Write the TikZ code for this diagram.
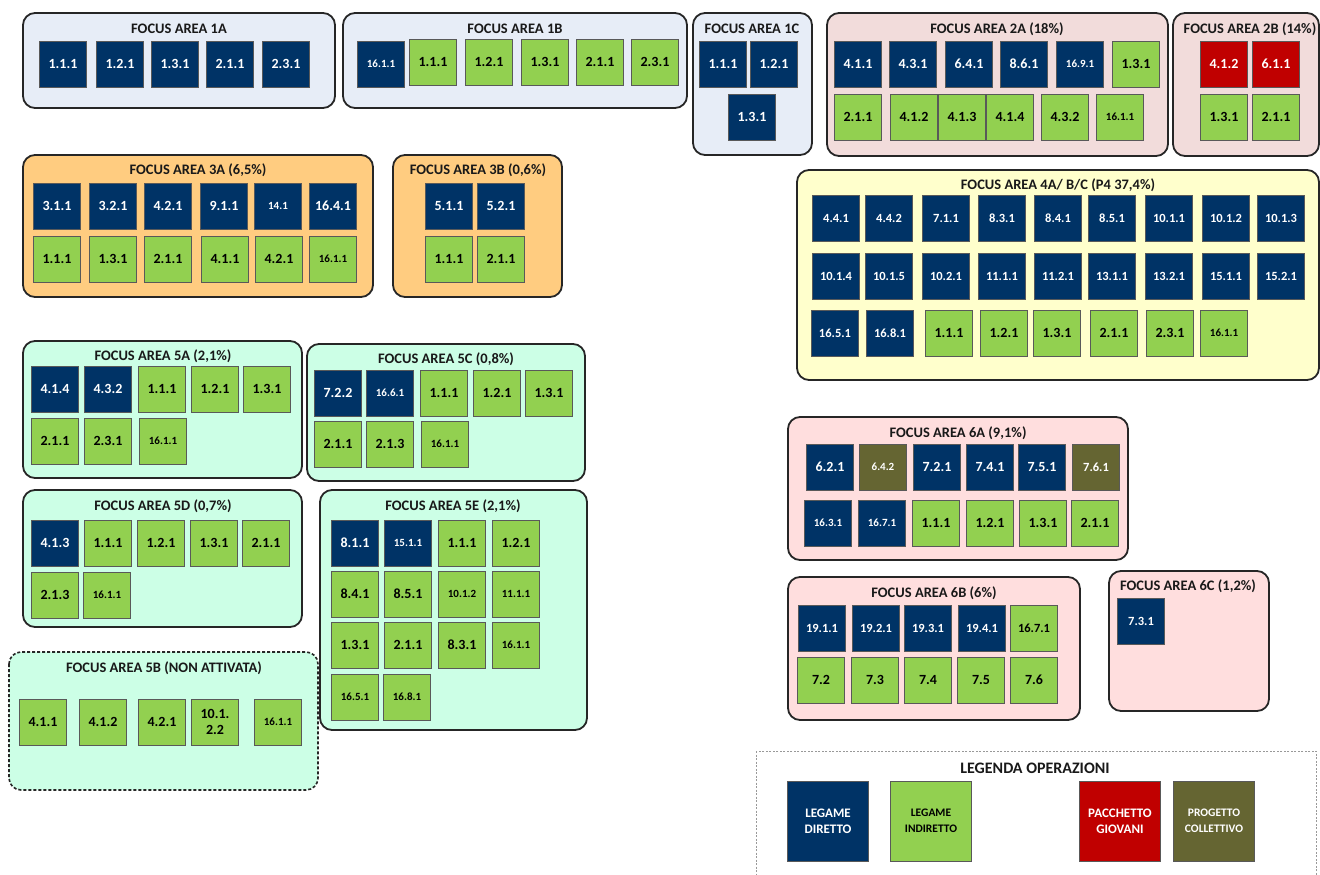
\documentclass[tikz,border=0pt]{standalone}
\usepackage{fontspec}
\setmainfont{Carlito}
\definecolor{navy}{HTML}{003366}
\definecolor{lgreen}{HTML}{92D050}
\definecolor{dred}{HTML}{C00000}
\definecolor{olivebox}{HTML}{656532}
\definecolor{fblue}{HTML}{E7EDF7}
\definecolor{fpinka}{HTML}{F2DCDB}
\definecolor{forange}{HTML}{FFCC80}
\definecolor{fyellow}{HTML}{FFFFCC}
\definecolor{fmint}{HTML}{CCFFE6}
\definecolor{fpinkb}{HTML}{FFDEDE}
\newcommand\opnode[5]{\node[#2] (#1) at (#3,#4) {#5};}
\begin{document}
\begin{tikzpicture}[x=1pt,y=-1pt,
  area/.style={draw=black!85, line width=1.8pt, rounded corners=12pt},
  dasharea/.style={draw=black!85, line width=1.6pt, rounded corners=12pt, dash pattern=on 3pt off 2pt},
  ttl/.style={font=\bfseries\fontsize{14.5}{16}\selectfont, text=black!90, inner sep=0pt},
  sq/.style={draw=black!65, line width=0.9pt, minimum width=47pt, minimum height=46pt, inner sep=0pt, align=center, font=\bfseries\fontsize{14}{16}\selectfont},
  dir/.style={sq, fill=navy, text=white},
  ind/.style={sq, fill=lgreen, text=black},
  pg/.style={sq, fill=dred, text=white},
  pc/.style={sq, fill=olivebox, text=white},
  sm/.style={font=\bfseries\fontsize{11}{13}\selectfont},
  md/.style={font=\bfseries\fontsize{12.5}{14}\selectfont},
  leg/.style={minimum width=81pt, minimum height=80pt, font=\bfseries\fontsize{13}{16}\selectfont},
  legs/.style={font=\bfseries\fontsize{11.5}{16}\selectfont}
]
\clip (0,0) rectangle (1320,875);
\fill[white] (0,0) rectangle (1320,875);

% ---------- 1A
\draw[area, fill=fblue] (23,13) rectangle (335,108);
\node[ttl] (t1a) at (179,29) {FOCUS AREA 1A};
\opnode{a1}{dir}{63}{64}{1.1.1}
\opnode{a2}{dir}{120}{64}{1.2.1}
\opnode{a3}{dir}{175}{64}{1.3.1}
\opnode{a4}{dir}{230}{64}{2.1.1}
\opnode{a5}{dir}{286}{64}{2.3.1}

% ---------- 1B
\draw[area, fill=fblue] (343,13) rectangle (687,108);
\node[ttl] (t1b) at (515,29) {FOCUS AREA 1B};
\opnode{b1}{dir,sm}{381}{64}{16.1.1}
\opnode{b2}{ind}{433}{62}{1.1.1}
\opnode{b3}{ind}{489}{62}{1.2.1}
\opnode{b4}{ind}{545}{62}{1.3.1}
\opnode{b5}{ind}{600}{62}{2.1.1}
\opnode{b6}{ind}{655}{62}{2.3.1}

% ---------- 1C
\draw[area, fill=fblue] (693,13) rectangle (812,155);
\node[ttl] (t1c) at (752,29) {FOCUS AREA 1C};
\opnode{c1}{dir}{723}{64}{1.1.1}
\opnode{c2}{dir}{774}{64}{1.2.1}
\opnode{c3}{dir}{752}{117}{1.3.1}

% ---------- 2A
\draw[area, fill=fpinka] (827,13) rectangle (1168,156);
\node[ttl] (t2a) at (997,29) {FOCUS AREA 2A (18\%)};
\opnode{d1}{dir}{858}{64}{4.1.1}
\opnode{d2}{dir}{913}{64}{4.3.1}
\opnode{d3}{dir}{969}{64}{6.4.1}
\opnode{d4}{dir}{1024}{64}{8.6.1}
\opnode{d5}{dir,sm}{1080}{64}{16.9.1}
\opnode{d6}{ind}{1136}{64}{1.3.1}
\opnode{d7}{ind}{858}{117}{2.1.1}
\opnode{d8}{ind}{914}{117}{4.1.2}
\opnode{d9}{ind}{962}{117}{4.1.3}
\opnode{d10}{ind}{1010}{117}{4.1.4}
\opnode{d11}{ind}{1065}{117}{4.3.2}
\opnode{d12}{ind,sm}{1120}{117}{16.1.1}

% ---------- 2B
\draw[area, fill=fpinka] (1173,13) rectangle (1319,156);
\node[ttl] (t2b) at (1250,29) {FOCUS AREA 2B (14\%)};
\opnode{e1}{pg}{1224}{64}{4.1.2}
\opnode{e2}{pg}{1276}{64}{6.1.1}
\opnode{e3}{ind}{1224}{117}{1.3.1}
\opnode{e4}{ind}{1276}{117}{2.1.1}

% ---------- 3A
\draw[area, fill=forange] (23,155) rectangle (373,297);
\node[ttl] (t3a) at (198,170) {FOCUS AREA 3A (6,5\%)};
\opnode{f1}{dir}{57}{206}{3.1.1}
\opnode{f2}{dir}{113}{206}{3.2.1}
\opnode{f3}{dir}{168}{206}{4.2.1}
\opnode{f4}{dir}{224}{206}{9.1.1}
\opnode{f5}{dir,sm}{278}{206}{14.1}
\opnode{f6}{dir}{333}{206}{16.4.1}
\opnode{f7}{ind}{57}{259}{1.1.1}
\opnode{f8}{ind}{113}{259}{1.3.1}
\opnode{f9}{ind}{168}{259}{2.1.1}
\opnode{f10}{ind}{225}{259}{4.1.1}
\opnode{f11}{ind}{279}{259}{4.2.1}
\opnode{f12}{ind,sm}{333}{259}{16.1.1}

% ---------- 3B
\draw[area, fill=forange] (393,155) rectangle (562,297);
\node[ttl] (t3b) at (478,170) {FOCUS AREA 3B (0,6\%)};
\opnode{g1}{dir}{449}{206}{5.1.1}
\opnode{g2}{dir}{501}{206}{5.2.1}
\opnode{g3}{ind}{449}{259}{1.1.1}
\opnode{g4}{ind}{501}{259}{2.1.1}

% ---------- 4
\draw[area, fill=fyellow] (797,170) rectangle (1319,380);
\node[ttl] (t4) at (1058,185) {FOCUS AREA 4A/ B/C (P4 37,4\%)};
\opnode{h1}{dir,md}{836}{218}{4.4.1}
\opnode{h2}{dir,md}{889}{218}{4.4.2}
\opnode{h3}{dir,md}{946}{218}{7.1.1}
\opnode{h4}{dir,md}{1002}{218}{8.3.1}
\opnode{h5}{dir,md}{1058}{218}{8.4.1}
\opnode{h6}{dir,md}{1112}{218}{8.5.1}
\opnode{h7}{dir,md}{1169}{218}{10.1.1}
\opnode{h8}{dir,md}{1226}{218}{10.1.2}
\opnode{h9}{dir,md}{1281}{218}{10.1.3}
\opnode{h10}{dir,md}{836}{276}{10.1.4}
\opnode{h11}{dir,md}{889}{276}{10.1.5}
\opnode{h12}{dir,md}{946}{276}{10.2.1}
\opnode{h13}{dir,md}{1002}{276}{11.1.1}
\opnode{h14}{dir,md}{1058}{276}{11.2.1}
\opnode{h15}{dir,md}{1112}{276}{13.1.1}
\opnode{h16}{dir,md}{1169}{276}{13.2.1}
\opnode{h17}{dir,md}{1226}{276}{15.1.1}
\opnode{h18}{dir,md}{1281}{276}{15.2.1}
\opnode{h19}{dir,md}{835}{333}{16.5.1}
\opnode{h20}{dir,md}{890}{333}{16.8.1}
\opnode{h21}{ind}{949}{333}{1.1.1}
\opnode{h22}{ind}{1004}{333}{1.2.1}
\opnode{h23}{ind}{1057}{333}{1.3.1}
\opnode{h24}{ind}{1114}{333}{2.1.1}
\opnode{h25}{ind}{1170}{333}{2.3.1}
\opnode{h26}{ind,sm}{1224}{333}{16.1.1}

% ---------- 5A
\draw[area, fill=fmint] (23,341) rectangle (302,478);
\node[ttl] (t5a) at (163,356) {FOCUS AREA 5A (2,1\%)};
\opnode{i1}{dir}{55}{389}{4.1.4}
\opnode{i2}{dir}{108}{389}{4.3.2}
\opnode{i3}{ind}{162}{389}{1.1.1}
\opnode{i4}{ind}{215}{389}{1.2.1}
\opnode{i5}{ind}{267}{389}{1.3.1}
\opnode{i6}{ind}{55}{441}{2.1.1}
\opnode{i7}{ind}{108}{441}{2.3.1}
\opnode{i8}{ind,sm}{163}{441}{16.1.1}

% ---------- 5C
\draw[area, fill=fmint] (307,344) rectangle (585,481);
\node[ttl] (t5c) at (446,359) {FOCUS AREA 5C (0,8\%)};
\opnode{j1}{dir}{338}{393}{7.2.2}
\opnode{j2}{dir,sm}{390}{393}{16.6.1}
\opnode{j3}{ind}{444}{393}{1.1.1}
\opnode{j4}{ind}{497}{393}{1.2.1}
\opnode{j5}{ind}{549}{393}{1.3.1}
\opnode{j6}{ind}{338}{444}{2.1.1}
\opnode{j7}{ind}{390}{444}{2.1.3}
\opnode{j8}{ind,sm}{445}{444}{16.1.1}

% ---------- 5D
\draw[area, fill=fmint] (23,490) rectangle (302,627);
\node[ttl] (t5d) at (163,506) {FOCUS AREA 5D (0,7\%)};
\opnode{k1}{dir}{55}{543}{4.1.3}
\opnode{k2}{ind}{108}{543}{1.1.1}
\opnode{k3}{ind}{161}{543}{1.2.1}
\opnode{k4}{ind}{214}{543}{1.3.1}
\opnode{k5}{ind}{266}{543}{2.1.1}
\opnode{k6}{ind}{55}{595}{2.1.3}
\opnode{k7}{ind,sm}{107}{595}{16.1.1}

% ---------- 5E
\draw[area, fill=fmint] (320,490) rectangle (587,730);
\node[ttl] (t5e) at (453,506) {FOCUS AREA 5E (2,1\%)};
\opnode{l1}{dir}{355}{543}{8.1.1}
\opnode{l2}{dir,sm}{408}{543}{15.1.1}
\opnode{l3}{ind}{462}{543}{1.1.1}
\opnode{l4}{ind}{516}{543}{1.2.1}
\opnode{l5}{ind}{355}{594}{8.4.1}
\opnode{l6}{ind}{408}{594}{8.5.1}
\opnode{l7}{ind,sm}{462}{594}{10.1.2}
\opnode{l8}{ind,sm}{516}{594}{11.1.1}
\opnode{l9}{ind}{355}{645}{1.3.1}
\opnode{l10}{ind}{408}{645}{2.1.1}
\opnode{l11}{ind}{462}{645}{8.3.1}
\opnode{l12}{ind,sm}{516}{645}{16.1.1}
\opnode{l13}{ind,sm}{355}{697}{16.5.1}
\opnode{l14}{ind,sm}{407}{697}{16.8.1}

% ---------- 5B
\draw[dasharea, fill=fmint] (9,652) rectangle (318,790);
\node[ttl] (t5b) at (164,668) {FOCUS AREA 5B (NON ATTIVATA)};
\opnode{m1}{ind}{43}{722}{4.1.1}
\opnode{m2}{ind}{103}{722}{4.1.2}
\opnode{m3}{ind}{162}{722}{4.2.1}
\opnode{m4}{ind}{215}{722}{10.1.\\2.2}
\opnode{m5}{ind,sm}{278}{722}{16.1.1}

% ---------- 6A
\draw[area, fill=fpinkb] (788,417) rectangle (1128,560);
\node[ttl] (t6a) at (958,433) {FOCUS AREA 6A (9,1\%)};
\opnode{n1}{dir}{830}{467}{6.2.1}
\opnode{n2}{pc,sm}{883}{467}{6.4.2}
\opnode{n3}{dir}{937}{467}{7.2.1}
\opnode{n4}{dir}{990}{467}{7.4.1}
\opnode{n5}{dir}{1042}{467}{7.5.1}
\opnode{n6}{pc,md}{1096}{467}{7.6.1}
\opnode{n7}{dir,sm}{828}{523}{16.3.1}
\opnode{n8}{dir,sm}{882}{523}{16.7.1}
\opnode{n9}{ind}{936}{523}{1.1.1}
\opnode{n10}{ind}{990}{523}{1.2.1}
\opnode{n11}{ind}{1043}{523}{1.3.1}
\opnode{n12}{ind}{1095}{523}{2.1.1}

% ---------- 6B
\draw[area, fill=fpinkb] (788,577) rectangle (1080,720);
\node[ttl] (t6b) at (934,593) {FOCUS AREA 6B (6\%)};
\opnode{o1}{dir,md}{822}{628}{19.1.1}
\opnode{o2}{dir,md}{876}{628}{19.2.1}
\opnode{o3}{dir,md}{928}{628}{19.3.1}
\opnode{o4}{dir,md}{982}{628}{19.4.1}
\opnode{o5}{ind,md}{1034}{628}{16.7.1}
\opnode{o6}{ind}{821}{680}{7.2}
\opnode{o7}{ind}{875}{680}{7.3}
\opnode{o8}{ind}{928}{680}{7.4}
\opnode{o9}{ind}{981}{680}{7.5}
\opnode{o10}{ind}{1034}{680}{7.6}

% ---------- 6C
\draw[area, fill=fpinkb] (1109,571) rectangle (1269,711);
\node[ttl] (t6c) at (1188,586) {FOCUS AREA 6C (1,2\%)};
\opnode{p1}{dir,md}{1141}{621}{7.3.1}

% ---------- Legend
\draw[draw=black!40, line width=0.7pt, dash pattern=on 2pt off 1.5pt] (756,751) rectangle (1316,895);
\node[ttl, font=\bfseries\fontsize{16}{18}\selectfont] (tleg) at (1035,768) {LEGENDA OPERAZIONI};
\opnode{q1}{dir,leg}{828}{821}{LEGAME\\DIRETTO}
\opnode{q2}{ind,leg,legs}{931}{821}{LEGAME\\INDIRETTO}
\opnode{q3}{pg,leg}{1120}{821}{PACCHETTO\\GIOVANI}
\opnode{q4}{pc,leg,legs}{1214}{821}{PROGETTO\\COLLETTIVO}
\end{tikzpicture}
\end{document}
